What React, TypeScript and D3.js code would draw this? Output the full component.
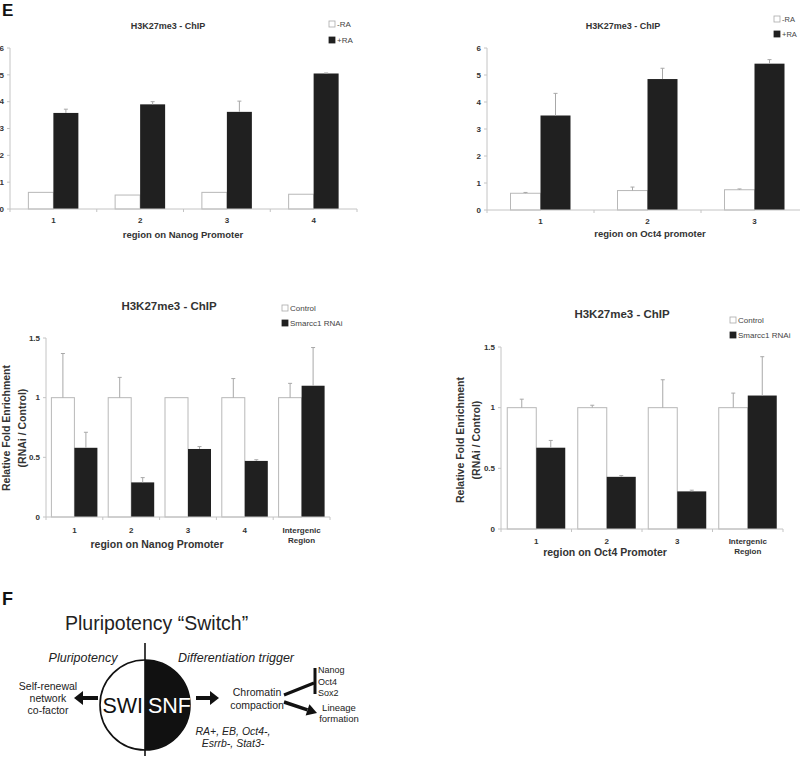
import React from "react";
import * as d3 from "d3";

// ---------- DATA ----------
const nanogRegionsRA = ["1", "2", "3", "4"];
const nanogMinusRA = [0.62, 0.52, 0.62, 0.55];
const nanogMinusRAErr = [0, 0, 0, 0];
const nanogPlusRA = [3.58, 3.9, 3.62, 5.05];
const nanogPlusRAErr = [0.14, 0.1, 0.4, 0.02];

const oct4RegionsRA = ["1", "2", "3"];
const oct4MinusRA = [0.62, 0.72, 0.75];
const oct4MinusRAErr = [0.03, 0.13, 0.03];
const oct4PlusRA = [3.5, 4.85, 5.42];
const oct4PlusRAErr = [0.82, 0.4, 0.15];

const raTicks = [0, 1, 2, 3, 4, 5, 6];
const raLegend = ["-RA", "+RA"];

const nanogRegionsRNAi = ["1", "2", "3", "4", "Intergenic\nRegion"];
const nanogControl = [1, 1, 1, 1, 1];
const nanogControlErr = [0.37, 0.17, 0, 0.16, 0.12];
const nanogRNAi = [0.58, 0.29, 0.57, 0.47, 1.1];
const nanogRNAiErr = [0.13, 0.04, 0.02, 0.01, 0.32];

const oct4RegionsRNAi = ["1", "2", "3", "Intergenic\nRegion"];
const oct4Control = [1, 1, 1, 1];
const oct4ControlErr = [0.07, 0.02, 0.23, 0.12];
const oct4RNAi = [0.67, 0.43, 0.31, 1.1];
const oct4RNAiErr = [0.06, 0.01, 0.01, 0.32];

const rnaiTicks = [0, 0.5, 1, 1.5];
const rnaiLegend = ["Control", "Smarcc1 RNAi"];
const rnaiYLabel = ["Relative Fold Enrichment", "(RNAi / Control)"];

const FONT = "'Liberation Sans', Arial, Helvetica, sans-serif";
const AXIS = "#c4c4c4";
const BLACK = "#202020";

type ChartProps = {
  categories: string[];
  a: number[];
  aErr: number[];
  b: number[];
  bErr: number[];
  yMax: number;
  ticks: number[];
  x0: number;
  x1: number;
  yTop: number;
  yBottom: number;
  barW: number;
  title: string;
  titleX: number;
  titleY: number;
  titleSize: number;
  legend: string[];
  legendX: number;
  legendY: number;
  legendGap: number;
  legendSize: number;
  xTitle: string;
  xTitleX: number;
  xTitleY: number;
  xTitleSize: number;
  catY: number;
  catSize: number;
  tickSize: number;
  yLabel?: string[];
  yLabelX?: number[];
  yLabelY?: number;
  yLabelSize?: number;
};

function BarChart(p: ChartProps) {
  const x = d3.scaleBand<string>().domain(p.categories).range([p.x0, p.x1]);
  const y = d3.scaleLinear().domain([0, p.yMax]).range([p.yBottom, p.yTop]);
  const inner = d3
    .scaleBand<string>()
    .domain(["a", "b"])
    .range([0, p.barW * 2]);
  const bw = x.bandwidth();
  const boundaries = p.categories.map((_, i) => p.x0 + bw * i).concat([p.x1]);
  const errBar = (cx: number, v: number, e: number, key: string) =>
    e > 0 ? (
      <g key={key} stroke="#a8a8a8" strokeWidth={1}>
        <line x1={cx} x2={cx} y1={y(v)} y2={y(v + e)} />
        <line x1={cx - 2} x2={cx + 2} y1={y(v + e)} y2={y(v + e)} />
      </g>
    ) : null;
  return (
    <g fontFamily={FONT}>
      <line x1={p.x0} x2={p.x0} y1={p.yTop} y2={p.yBottom} stroke={AXIS} />
      {p.ticks.map((t) => (
        <g key={"yt" + t}>
          <line x1={p.x0 - 3} x2={p.x0} y1={y(t)} y2={y(t)} stroke={AXIS} />
          <text
            x={p.x0 - 6}
            y={y(t)}
            dy="0.35em"
            textAnchor="end"
            fontSize={p.tickSize}
            fontWeight="bold"
            fill="#333"
          >
            {String(t)}
          </text>
        </g>
      ))}
      {p.categories.map((c, i) => {
        const start = (x(c) as number) + bw / 2 - p.barW;
        const ax = start + (inner("a") as number);
        const bx = start + (inner("b") as number);
        return (
          <g key={"bar" + i}>
            <rect
              x={ax}
              y={y(p.a[i])}
              width={p.barW}
              height={y(0) - y(p.a[i])}
              fill="#fff"
              stroke="#b8b8b8"
              strokeWidth={1}
            />
            {errBar(ax + p.barW / 2, p.a[i], p.aErr[i], "ea" + i)}
            <rect
              x={bx}
              y={y(p.b[i])}
              width={p.barW}
              height={y(0) - y(p.b[i])}
              fill={BLACK}
            />
            {errBar(bx + p.barW / 2, p.b[i], p.bErr[i], "eb" + i)}
          </g>
        );
      })}
      <line x1={p.x0} x2={p.x1} y1={p.yBottom} y2={p.yBottom} stroke={AXIS} />
      {boundaries.map((bx, i) => (
        <line
          key={"xt" + i}
          x1={bx}
          x2={bx}
          y1={p.yBottom}
          y2={p.yBottom + 3}
          stroke={AXIS}
        />
      ))}
      {p.categories.map((c, i) => (
        <text
          key={"cl" + i}
          x={(x(c) as number) + bw / 2}
          y={p.catY}
          textAnchor="middle"
          fontSize={p.catSize}
          fontWeight="bold"
          fill="#333"
        >
          {c.split("\n").map((ln, j) => (
            <tspan key={j} x={(x(c) as number) + bw / 2} dy={j === 0 ? 0 : p.catSize * 1.3}>
              {ln}
            </tspan>
          ))}
        </text>
      ))}
      <text
        x={p.xTitleX}
        y={p.xTitleY}
        textAnchor="middle"
        fontSize={p.xTitleSize}
        fontWeight="bold"
        fill="#333"
      >
        {p.xTitle}
      </text>
      <text
        x={p.titleX}
        y={p.titleY}
        textAnchor="middle"
        fontSize={p.titleSize}
        fontWeight="bold"
        fill="#333"
      >
        {p.title}
      </text>
      {p.legend.map((l, i) => (
        <g key={"lg" + i}>
          <rect
            x={p.legendX}
            y={p.legendY + i * p.legendGap - 3}
            width={6}
            height={6}
            fill={i === 0 ? "#fff" : BLACK}
            stroke={i === 0 ? "#aaa" : BLACK}
            strokeWidth={0.8}
          />
          <text
            x={p.legendX + 8}
            y={p.legendY + i * p.legendGap}
            dy="0.35em"
            fontSize={p.legendSize}
            fill="#444"
          >
            {l}
          </text>
        </g>
      ))}
      {p.yLabel &&
        p.yLabel.map((l, i) => (
          <text
            key={"yl" + i}
            transform={`translate(${(p.yLabelX as number[])[i]},${p.yLabelY}) rotate(-90)`}
            textAnchor="middle"
            fontSize={p.yLabelSize}
            fontWeight="bold"
            fill="#333"
          >
            {l}
          </text>
        ))}
    </g>
  );
}

function Arrow({ x1, y1, x2, y2, w = 4, head = 9, hw = 7 }: any) {
  const ang = Math.atan2(y2 - y1, x2 - x1);
  const bx = x2 - head * Math.cos(ang);
  const by = y2 - head * Math.sin(ang);
  const px = -Math.sin(ang);
  const py = Math.cos(ang);
  return (
    <g>
      <line x1={x1} y1={y1} x2={bx} y2={by} stroke="#111" strokeWidth={w} />
      <polygon
        points={`${x2},${y2} ${bx + px * hw},${by + py * hw} ${bx - px * hw},${by - py * hw}`}
        fill="#111"
      />
    </g>
  );
}

function PanelF() {
  const cx = 145;
  const cy = 705;
  const r = 45;
  return (
    <g fontFamily={FONT} fill="#222">
      <text x={2} y={605} fontSize={18} fontWeight="bold" fill="#111">
        F
      </text>
      <text x={65} y={630} fontSize={19.5}>
        Pluripotency “Switch”
      </text>
      <text x={83} y={662} fontSize={12.5} fontStyle="italic" textAnchor="middle">
        Pluripotency
      </text>
      <text x={236} y={662} fontSize={12.5} fontStyle="italic" textAnchor="middle">
        Differentiation trigger
      </text>
      <circle cx={cx} cy={cy} r={r} fill="#fff" stroke="#111" strokeWidth={1.6} />
      <path d={`M${cx},${cy - r} A${r},${r} 0 0 1 ${cx},${cy + r} Z`} fill="#111" />
      <line x1={cx} x2={cx} y1={643} y2={756} stroke="#111" strokeWidth={1.6} />
      <text x={cx - 2} y={713} fontSize={21.5} textAnchor="end" fill="#111">
        SWI
      </text>
      <text x={cx + 3} y={713} fontSize={21.5} textAnchor="start" fill="#fff">
        SNF
      </text>
      {["Self-renewal", "network", "co-factor"].map((t, i) => (
        <text key={t} x={48} y={690 + i * 12} fontSize={10.5} textAnchor="middle">
          {t}
        </text>
      ))}
      <Arrow x1={98} y1={698} x2={74} y2={698} />
      <Arrow x1={196} y1={698} x2={219} y2={698} />
      {["Chromatin", "compaction"].map((t, i) => (
        <text key={t} x={257} y={696 + i * 13} fontSize={10.5} textAnchor="middle">
          {t}
        </text>
      ))}
      <line x1={284} y1={695} x2={314} y2={683} stroke="#111" strokeWidth={3} />
      <line x1={315} y1={668} x2={315} y2={694} stroke="#111" strokeWidth={3} />
      {["Nanog", "Oct4", "Sox2"].map((t, i) => (
        <text key={t} x={318} y={673 + i * 11.5} fontSize={9}>
          {t}
        </text>
      ))}
      <Arrow x1={284} y1={702} x2={317} y2={713} w={3.5} head={10} hw={6} />
      {["Lineage", "formation"].map((t, i) => (
        <text key={t} x={339} y={711 + i * 10.5} fontSize={9.5} textAnchor="middle">
          {t}
        </text>
      ))}
      {["RA+, EB, Oct4-,", "Esrrb-, Stat3-"].map((t, i) => (
        <text key={t} x={233} y={735 + i * 12} fontSize={10.5} fontStyle="italic" textAnchor="middle">
          {t}
        </text>
      ))}
    </g>
  );
}

export default function App() {
  return (
    <svg
      width={800}
      height={758}
      style={{ position: "absolute", left: 0, top: 0, background: "#fff" }}
    >
      <rect width={800} height={758} fill="#fff" />
      <text x={2} y={16} fontFamily={FONT} fontSize={17} fontWeight="bold" fill="#111">
        E
      </text>
      <BarChart
        categories={nanogRegionsRA}
        a={nanogMinusRA}
        aErr={nanogMinusRAErr}
        b={nanogPlusRA}
        bErr={nanogPlusRAErr}
        yMax={6}
        ticks={raTicks}
        x0={10}
        x1={357}
        yTop={48}
        yBottom={209}
        barW={25}
        title="H3K27me3 - ChIP"
        titleX={168}
        titleY={29}
        titleSize={9}
        legend={raLegend}
        legendX={329}
        legendY={24}
        legendGap={16}
        legendSize={8}
        xTitle="region on Nanog Promoter"
        xTitleX={183}
        xTitleY={238}
        xTitleSize={9.5}
        catY={223}
        catSize={8}
        tickSize={8}
      />
      <BarChart
        categories={oct4RegionsRA}
        a={oct4MinusRA}
        aErr={oct4MinusRAErr}
        b={oct4PlusRA}
        bErr={oct4PlusRAErr}
        yMax={6}
        ticks={raTicks}
        x0={487}
        x1={808}
        yTop={48}
        yBottom={210}
        barW={30}
        title="H3K27me3 - ChIP"
        titleX={623}
        titleY={29}
        titleSize={9}
        legend={raLegend}
        legendX={774}
        legendY={19}
        legendGap={15}
        legendSize={7.5}
        xTitle="region on Oct4 promoter"
        xTitleX={650}
        xTitleY={237}
        xTitleSize={9.5}
        catY={224}
        catSize={8}
        tickSize={8}
      />
      <BarChart
        categories={nanogRegionsRNAi}
        a={nanogControl}
        aErr={nanogControlErr}
        b={nanogRNAi}
        bErr={nanogRNAiErr}
        yMax={1.5}
        ticks={rnaiTicks}
        x0={46}
        x1={330}
        yTop={338}
        yBottom={517}
        barW={23}
        title="H3K27me3 - ChIP"
        titleX={169}
        titleY={310}
        titleSize={11.5}
        legend={rnaiLegend}
        legendX={282}
        legendY={308}
        legendGap={15}
        legendSize={8}
        xTitle="region on Nanog Promoter"
        xTitleX={157}
        xTitleY={548}
        xTitleSize={10.5}
        catY={533}
        catSize={8}
        tickSize={8}
        yLabel={rnaiYLabel}
        yLabelX={[10, 26]}
        yLabelY={428}
        yLabelSize={10.5}
      />
      <BarChart
        categories={oct4RegionsRNAi}
        a={oct4Control}
        aErr={oct4ControlErr}
        b={oct4RNAi}
        bErr={oct4RNAiErr}
        yMax={1.5}
        ticks={rnaiTicks}
        x0={501}
        x1={783}
        yTop={347}
        yBottom={529}
        barW={29}
        title="H3K27me3 - ChIP"
        titleX={622}
        titleY={318}
        titleSize={11.5}
        legend={rnaiLegend}
        legendX={730}
        legendY={320}
        legendGap={15}
        legendSize={8}
        xTitle="region on Oct4 Promoter"
        xTitleX={605}
        xTitleY={556}
        xTitleSize={10.5}
        catY={544}
        catSize={8}
        tickSize={8}
        yLabel={rnaiYLabel}
        yLabelX={[464, 480]}
        yLabelY={440}
        yLabelSize={10.5}
      />
      <PanelF />
    </svg>
  );
}
